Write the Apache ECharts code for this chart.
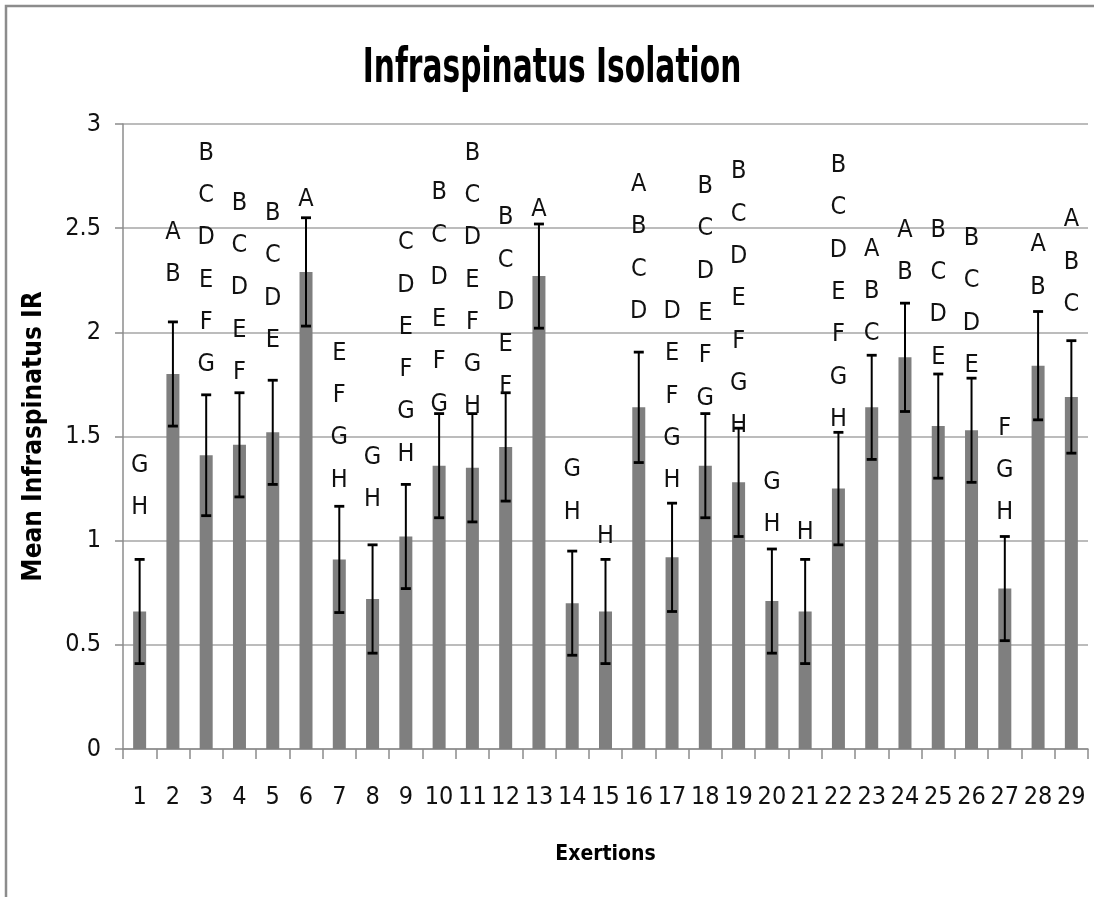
<!DOCTYPE html>
<html>
<head>
<meta charset="utf-8">
<title>Infraspinatus Isolation</title>
<script src="https://cdn.jsdelivr.net/npm/echarts@6/dist/echarts.min.js"></script>
<style>
  html, body { margin: 0; padding: 0; background: #fff; }
  #chart { width: 1094px; height: 897px; }
</style>
</head>
<body>
<div id="chart"></div>
<script>
// Exertion numbers along the x axis
const exertions = ['1','2','3','4','5','6','7','8','9','10','11','12','13','14','15',
  '16','17','18','19','20','21','22','23','24','25','26','27','28','29'];

// Mean infraspinatus IR per exertion
const meanIR = [0.66, 1.80, 1.41, 1.46, 1.52, 2.29, 0.91, 0.72, 1.02, 1.36,
  1.35, 1.45, 2.27, 0.70, 0.66, 1.64, 0.92, 1.36, 1.28, 0.71,
  0.66, 1.25, 1.64, 1.88, 1.55, 1.53, 0.77, 1.84, 1.69];

// Error bar half-lengths
const errIR = [0.25, 0.25, 0.29, 0.25, 0.25, 0.26, 0.255, 0.26, 0.25, 0.25,
  0.26, 0.26, 0.25, 0.25, 0.25, 0.265, 0.26, 0.25, 0.26, 0.25,
  0.25, 0.27, 0.25, 0.26, 0.25, 0.25, 0.25, 0.26, 0.27];

// Statistical grouping letters for each exertion
const groupLetters = ['GH', 'AB', 'BCDEFG', 'BCDEF', 'BCDE', 'A', 'EFGH', 'GH', 'CDEFGH', 'BCDEFG',
  'BCDEFGH', 'BCDEF', 'A', 'GH', 'H', 'ABCD', 'DEFGH', 'BCDEFG', 'BCDEFGH', 'GH',
  'H', 'BCDEFGH', 'ABC', 'AB', 'BCDE', 'BCDE', 'FGH', 'AB', 'ABC'];

// Axis level (in IR units) where the first letter of each group sits
const letterLevel = [1.36, 2.48, 2.86, 2.62, 2.57, 2.64, 1.90, 1.40, 2.43, 2.67,
  2.86, 2.55, 2.59, 1.34, 1.02, 2.71, 2.10, 2.70, 2.77, 1.28,
  1.04, 2.80, 2.40, 2.49, 2.49, 2.45, 1.54, 2.42, 2.54];

// Value axis ticks
const yMin = 0, yMax = 3, yStep = 0.5;

const NARROW = '"DejaVu Sans Condensed", "Liberation Sans Narrow", "Open Sans", sans-serif';
const LETTER_LINE = 42.3;

const chart = echarts.init(document.getElementById('chart'), null, { renderer: 'canvas' });

const option = {
  animation: false,
  backgroundColor: '#ffffff',
  graphic: [
    {
      type: 'rect',
      silent: true,
      shape: { x: 6, y: 6, width: 1200, height: 1000 },
      style: { fill: 'none', stroke: '#8c8c8c', lineWidth: 2.5 },
      z: 0
    },
    {
      type: 'text',
      x: 552, y: 70,
      scaleY: 1.45,
      style: {
        text: 'Infraspinatus Isolation',
        font: 'bold 33px ' + NARROW,
        fill: '#000000',
        textAlign: 'center',
        textVerticalAlign: 'middle'
      },
      z: 10
    }
  ],
  grid: { left: 123, right: 6, top: 124, bottom: 148, containLabel: false },
  xAxis: {
    type: 'category',
    data: exertions,
    boundaryGap: true,
    name: 'Exertions',
    nameLocation: 'middle',
    nameGap: 95,
    nameTextStyle: { fontFamily: NARROW, fontWeight: 'bold', fontSize: 21, color: '#000' },
    axisLine: { show: true, lineStyle: { color: '#8c8c8c', width: 1.5 } },
    axisTick: { show: true, interval: 0, length: 10, lineStyle: { color: '#8c8c8c', width: 1.5 } },
    axisLabel: { interval: 0, margin: 36, fontFamily: NARROW, fontSize: 25, color: '#111' },
    splitLine: { show: false }
  },
  yAxis: {
    type: 'value',
    min: yMin, max: yMax, interval: yStep,
    name: 'Mean Infraspinatus IR',
    nameLocation: 'middle',
    nameGap: 76,
    nameTextStyle: { fontFamily: NARROW, fontWeight: 'bold', fontSize: 26, color: '#000' },
    axisLine: { show: true, lineStyle: { color: '#8c8c8c', width: 1.5 } },
    axisTick: { show: true, length: 8, lineStyle: { color: '#8c8c8c', width: 1.5 } },
    axisLabel: { margin: 22, fontFamily: NARROW, fontSize: 25, color: '#111' },
    splitLine: { show: true, lineStyle: { color: '#a6a6a6', width: 1.5 } }
  },
  series: [
    {
      name: 'Mean IR',
      type: 'bar',
      data: meanIR,
      barWidth: 13,
      itemStyle: { color: '#7f7f7f' },
      z: 2
    },
    {
      name: 'Error',
      type: 'custom',
      data: meanIR.map((m, i) => [i, m, errIR[i]]),
      encode: { x: 0, y: 1 },
      z: 3,
      renderItem: function (params, api) {
        const i = api.value(0), m = api.value(1), e = api.value(2);
        const top = api.coord([i, m + e]);
        const bot = api.coord([i, m - e]);
        const half = 5;
        const st = { stroke: '#000', lineWidth: 2 };
        const cap = { stroke: '#000', lineWidth: 2.8 };
        return {
          type: 'group',
          children: [
            { type: 'line', shape: { x1: top[0], y1: top[1], x2: bot[0], y2: bot[1] }, style: st },
            { type: 'line', shape: { x1: top[0] - half, y1: top[1], x2: top[0] + half, y2: top[1] }, style: cap },
            { type: 'line', shape: { x1: bot[0] - half, y1: bot[1], x2: bot[0] + half, y2: bot[1] }, style: cap }
          ]
        };
      }
    },
    {
      name: 'Groups',
      type: 'custom',
      data: letterLevel.map((v, i) => [i, v]),
      encode: { x: 0, y: 1 },
      z: 4,
      renderItem: function (params, api) {
        const p = api.coord([api.value(0), api.value(1)]);
        return {
          type: 'text',
          x: p[0],
          y: p[1] - LETTER_LINE / 2,
          style: {
            text: groupLetters[params.dataIndex].split('').join('\n'),
            font: '25px ' + NARROW,
            fill: '#111',
            textAlign: 'center',
            textVerticalAlign: 'top',
            lineHeight: LETTER_LINE
          }
        };
      }
    }
  ]
};

chart.setOption(option);
</script>
</body>
</html>
